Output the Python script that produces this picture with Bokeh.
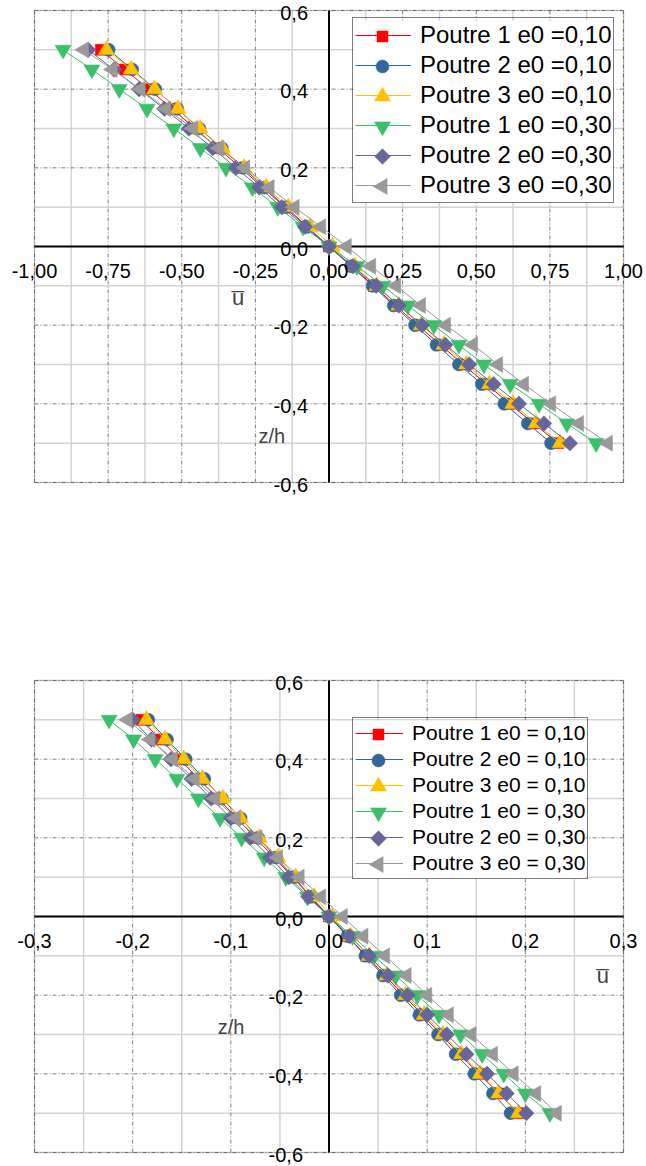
import math

from bokeh.embed import file_html
from bokeh.layouts import column
from bokeh.models import (BoxAnnotation, ColumnDataSource, Label, Legend,
                          LegendItem, Range1d)
from bokeh.plotting import figure
from bokeh.resources import INLINE

FONT = "Liberation Sans"

# depth through the beam section
z_h = [0.50, 0.45, 0.40, 0.35, 0.30, 0.25, 0.20, 0.15, 0.10, 0.05, 0.00,
       -0.05, -0.10, -0.15, -0.20, -0.25, -0.30, -0.35, -0.40, -0.45, -0.50]

# ---- first chart: displacement u over the section ----
top_p1_e010 = [-0.775, -0.693, -0.612, -0.533, -0.455, -0.377, -0.300, -0.225, -0.150, -0.076, 0.000,
               0.077, 0.152, 0.226, 0.301, 0.378, 0.456, 0.535, 0.614, 0.695, 0.778]
top_p2_e010 = [-0.748, -0.668, -0.590, -0.515, -0.440, -0.364, -0.291, -0.219, -0.146, -0.073, 0.000,
               0.075, 0.148, 0.220, 0.292, 0.365, 0.441, 0.519, 0.595, 0.675, 0.754]
top_p3_e010 = [-0.756, -0.672, -0.592, -0.513, -0.438, -0.362, -0.288, -0.213, -0.138, -0.063, 0.012,
               0.088, 0.163, 0.237, 0.313, 0.390, 0.467, 0.545, 0.624, 0.703, 0.785]
top_p1_e030 = [-0.903, -0.805, -0.712, -0.618, -0.527, -0.437, -0.350, -0.260, -0.174, -0.088, 0.000,
               0.095, 0.183, 0.268, 0.356, 0.441, 0.526, 0.615, 0.713, 0.808, 0.907]
top_p2_e030 = [-0.818, -0.730, -0.645, -0.559, -0.476, -0.395, -0.316, -0.237, -0.160, -0.081, 0.000,
               0.081, 0.160, 0.237, 0.316, 0.395, 0.476, 0.559, 0.645, 0.730, 0.818]
top_p3_e030 = [-0.832, -0.735, -0.640, -0.553, -0.462, -0.373, -0.285, -0.202, -0.117, -0.027, 0.060,
               0.143, 0.228, 0.312, 0.397, 0.489, 0.574, 0.662, 0.754, 0.849, 0.947]

top_x_ticks = [-1.00, -0.75, -0.50, -0.25, 0.00, 0.25, 0.50, 0.75, 1.00]
top_x_labels = ["-1,00", "-0,75", "-0,50", "-0,25", "0,00", "0,25", "0,50", "0,75", "1,00"]
top_x_minor = [-0.875, -0.625, -0.375, -0.125, 0.125, 0.375, 0.625, 0.875]
top_legend = ["Poutre 1 e0 =0,10", "Poutre 2 e0 =0,10", "Poutre 3 e0 =0,10",
              "Poutre 1 e0 =0,30", "Poutre 2 e0 =0,30", "Poutre 3 e0 =0,30"]

# ---- second chart ----
bot_p1_e010 = [-0.191, -0.172, -0.152, -0.133, -0.113, -0.094, -0.075, -0.056, -0.037, -0.019, 0.000,
               0.019, 0.038, 0.057, 0.076, 0.095, 0.114, 0.133, 0.153, 0.173, 0.193]
bot_p2_e010 = [-0.184, -0.165, -0.146, -0.127, -0.109, -0.090, -0.072, -0.054, -0.036, -0.018, 0.000,
               0.019, 0.037, 0.055, 0.073, 0.092, 0.111, 0.129, 0.148, 0.167, 0.185]
bot_p3_e010 = [-0.186, -0.167, -0.148, -0.129, -0.108, -0.090, -0.071, -0.052, -0.034, -0.015, 0.003,
               0.022, 0.041, 0.059, 0.078, 0.097, 0.116, 0.135, 0.154, 0.173, 0.193]
bot_p1_e030 = [-0.224, -0.199, -0.177, -0.155, -0.133, -0.111, -0.089, -0.066, -0.044, -0.022, 0.000,
               0.024, 0.046, 0.068, 0.090, 0.112, 0.134, 0.156, 0.178, 0.200, 0.225]
bot_p2_e030 = [-0.200, -0.181, -0.161, -0.140, -0.120, -0.100, -0.080, -0.060, -0.041, -0.021, 0.000,
               0.021, 0.041, 0.060, 0.080, 0.100, 0.120, 0.140, 0.161, 0.181, 0.201]
bot_p3_e030 = [-0.205, -0.182, -0.159, -0.137, -0.116, -0.095, -0.073, -0.052, -0.030, -0.008, 0.014,
               0.035, 0.057, 0.079, 0.100, 0.122, 0.145, 0.167, 0.188, 0.211, 0.232]

bot_x_ticks = [-0.3, -0.2, -0.1, 0.0, 0.1, 0.2, 0.3]
bot_x_labels = ["-0,3", "-0,2", "-0,1", "0,0", "0,1", "0,2", "0,3"]
bot_x_minor = [-0.25, -0.15, -0.05, 0.05, 0.15, 0.25]
bot_legend = ["Poutre 1 e0 = 0,10", "Poutre 2 e0 = 0,10", "Poutre 3 e0 = 0,10",
              "Poutre 1 e0 = 0,30", "Poutre 2 e0 = 0,30", "Poutre 3 e0 = 0,30"]

y_ticks = [-0.6, -0.4, -0.2, 0.0, 0.2, 0.4, 0.6]
y_labels = ["-0,6", "-0,4", "-0,2", "0,0", "0,2", "0,4", "0,6"]
y_minor = [-0.5, -0.3, -0.1, 0.1, 0.3, 0.5]

# colour, marker, size, rotation for each series (same order in both charts)
STYLES = [
    ("#FF0000", "square", 11, 0.0),
    ("#336699", "circle", 13, 0.0),
    ("#FFC000", "triangle", 16, 0.0),
    ("#3CBE6B", "inverted_triangle", 16, 0.0),
    ("#666699", "square", 11, math.pi / 4),
    ("#999999", "triangle", 16, math.pi / 2),
]

WIDTH = 646
PAD_L, PAD_R = 34, 23           # space left / right of the plotting box
BOX_W = WIDTH - PAD_L - PAD_R
BOX_H = 472
Y_LIM = 0.6


def build(series, names, x_lim, x_ticks, x_labels, x_minor, y_lab_dx,
          u_pos, zh_pos, legend_font, row, glyph_w, leg_w, legend_xy,
          height, pad_top, pad_bottom):
    kx = BOX_W / (2 * x_lim)
    ky = BOX_H / (2 * Y_LIM)
    p = figure(width=WIDTH, height=height, output_backend="svg", toolbar_location=None,
               x_range=Range1d(-x_lim - PAD_L / kx, x_lim + PAD_R / kx),
               y_range=Range1d(-Y_LIM - pad_bottom / ky, Y_LIM + pad_top / ky),
               x_axis_type=None, y_axis_type=None, min_border=0)
    p.outline_line_color = None
    p.background_fill_color = "white"
    p.border_fill_color = "white"
    # pixel ranges for the legend keys
    p.extra_x_ranges = {"px": Range1d(0, WIDTH)}
    p.extra_y_ranges = {"px": Range1d(0, height)}

    # grid: light solid minor lines, dark dash-dot major lines
    n_xm, n_ym = len(x_minor), len(y_minor)
    p.segment(x0=x_minor, x1=x_minor, y0=[-Y_LIM] * n_xm, y1=[Y_LIM] * n_xm,
              line_color="#d4d4d4", line_width=1.5, level="underlay")
    p.segment(x0=[-x_lim] * n_ym, x1=[x_lim] * n_ym, y0=y_minor, y1=y_minor,
              line_color="#d4d4d4", line_width=1.5, level="underlay")
    n_xt, n_yt = len(x_ticks), len(y_ticks)
    p.segment(x0=x_ticks, x1=x_ticks, y0=[-Y_LIM] * n_xt, y1=[Y_LIM] * n_xt,
              line_color="#808080", line_width=1, line_dash="4 2 1 2", level="underlay")
    p.segment(x0=[-x_lim] * n_yt, x1=[x_lim] * n_yt, y0=y_ticks, y1=y_ticks,
              line_color="#808080", line_width=1, line_dash="4 2 1 2", level="underlay")
    # axes crossing at the origin
    p.segment(x0=[0.0, -x_lim], x1=[0.0, x_lim], y0=[-Y_LIM, 0.0], y1=[Y_LIM, 0.0],
              line_color="black", line_width=2, level="underlay")
    p.add_layout(BoxAnnotation(left=-x_lim, right=x_lim, bottom=-Y_LIM, top=Y_LIM,
                               fill_alpha=0, line_color="#444444", line_width=1.5))

    items = []
    for vals, name, (color, marker, size, angle) in zip(series, names, STYLES):
        src = ColumnDataSource(dict(u=vals, z=z_h))
        ln = p.line("u", "z", source=src, line_color=color, line_width=1)
        p.scatter("u", "z", source=src, marker=marker, size=size, angle=angle,
                  fill_color=color, line_color=color, line_width=0.5)
        items.append(LegendItem(label=name, renderers=[ln]))

    # legend: white panel and keys underneath a transparent Legend
    pad = 2
    leg_h = 2 * pad + len(names) * row
    lx, ly = legend_xy
    p.quad(left=[lx + 1], right=[lx + leg_w - 1], bottom=[ly + 1], top=[ly + leg_h - 1],
           fill_color="white", line_color=None, x_range_name="px", y_range_name="px")
    key_x = lx + pad + glyph_w / 2
    key_top = ly + leg_h - pad - row / 2
    for i, (color, marker, size, angle) in enumerate(STYLES):
        p.scatter([key_x], [key_top - i * row], marker=marker, size=size, angle=angle,
                  fill_color=color, line_color=color, line_width=0.5,
                  x_range_name="px", y_range_name="px")

    for xv, txt in zip(x_ticks, x_labels):
        p.add_layout(Label(x=xv, y=0.0, text=txt, text_align="center", text_baseline="middle",
                           y_offset=-24, text_font=FONT, text_font_size="20px", text_color="black"))
    for yv, txt in zip(y_ticks, y_labels):
        p.add_layout(Label(x=0.0, y=yv, text=txt, text_align="right", text_baseline="middle",
                           x_offset=y_lab_dx, y_offset=-2,
                           text_font=FONT, text_font_size="20px", text_color="black"))

    p.add_layout(Label(x=u_pos[0], y=u_pos[1], text="u\u0305", text_align="center",
                       text_baseline="middle", text_font=FONT, text_font_size="22px"))
    p.add_layout(Label(x=zh_pos[0], y=zh_pos[1], text="z/h", text_align="center",
                       text_baseline="middle", text_font=FONT, text_font_size="20px"))

    p.add_layout(Legend(items=items, location=legend_xy, orientation="vertical",
                        label_text_font=FONT, label_text_font_size=legend_font,
                        label_text_color="black", glyph_width=glyph_w,
                        glyph_height=row, label_height=row, spacing=0,
                        padding=pad, margin=0, label_standoff=9,
                        border_line_color="black", border_line_width=1,
                        background_fill_alpha=0.0))
    return p


top = build([top_p1_e010, top_p2_e010, top_p3_e010, top_p1_e030, top_p2_e030, top_p3_e030],
            top_legend, 1.0, top_x_ticks, top_x_labels, top_x_minor, -21,
            (-0.309, -0.129), (-0.194, -0.481), "24px", 30, 56, 262, (352, 309),
            512, 10, 30)
bottom = build([bot_p1_e010, bot_p2_e010, bot_p3_e010, bot_p1_e030, bot_p2_e030, bot_p3_e030],
               bot_legend, 0.3, bot_x_ticks, bot_x_labels, bot_x_minor, -26,
               (0.279, -0.151), (-0.0998, -0.281), "21px", 26, 48, 234, (352, 287),
               654, 168, 14)

page = column(top, bottom, spacing=0)
open("out.html", "w").write(file_html(page, INLINE))
